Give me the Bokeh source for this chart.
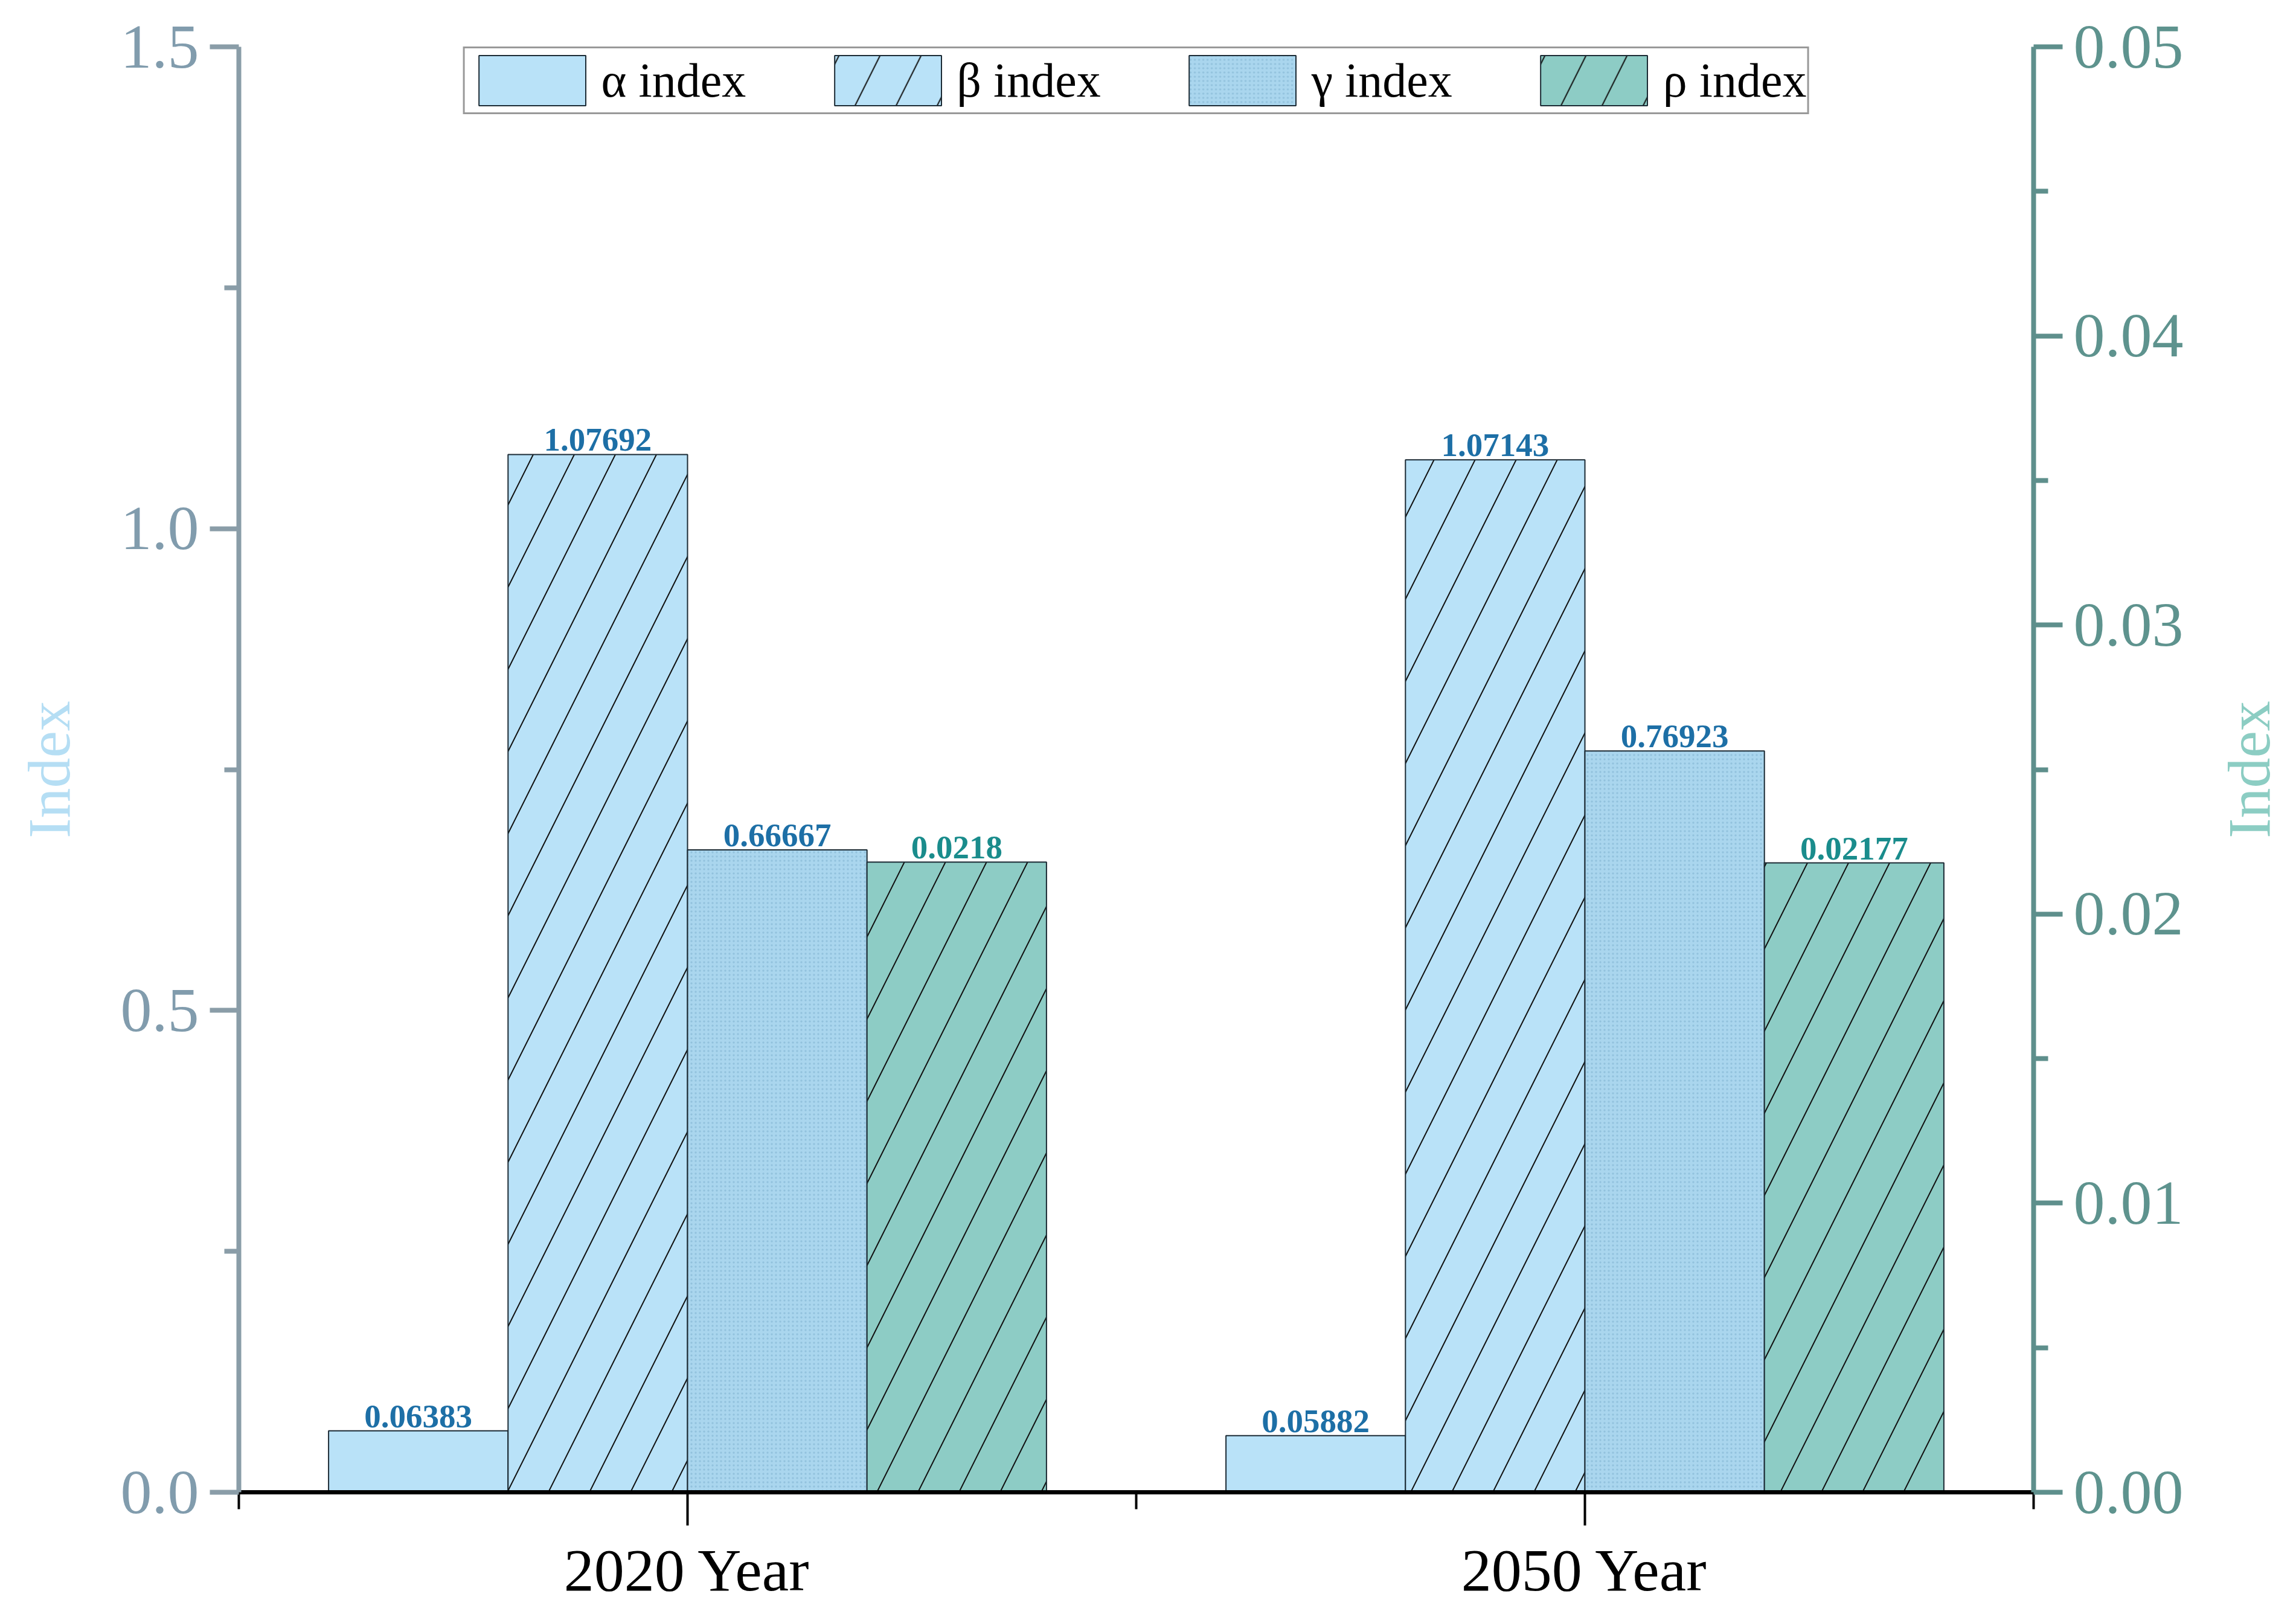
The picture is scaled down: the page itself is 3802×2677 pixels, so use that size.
import math
from bokeh.plotting import figure
from bokeh.models import (Range1d, LinearAxis, FixedTicker, NumeralTickFormatter,
                          Legend, LegendItem, ColumnDataSource, LabelSet, Label)
from bokeh.transform import dodge
from bokeh.embed import file_html
from bokeh.resources import INLINE

# ---------------- data ----------------
years = ["2020 Year", "2050 Year"]
alpha_index = [0.06383, 0.05882]
beta_index = [1.07692, 1.07143]
gamma_index = [0.66667, 0.76923]
rho_index = [0.0218, 0.02177]          # plotted on the right axis
series_names = ["α index", "β index", "γ index", "ρ index"]
left_ticks = [0.0, 0.5, 1.0, 1.5]
right_ticks = [0.00, 0.01, 0.02, 0.03, 0.04, 0.05]

x_pos = [i + 1 for i in range(len(years))]

src = ColumnDataSource(dict(
    x=x_pos,
    alpha=alpha_index, beta=beta_index, gamma=gamma_index, rho=rho_index,
    alpha_lbl=[str(v) for v in alpha_index],
    beta_lbl=[str(v) for v in beta_index],
    gamma_lbl=[str(v) for v in gamma_index],
    rho_lbl=[str(v) for v in rho_index],
))

SERIF = "Liberation Serif"

p = figure(width=3786, height=2661, output_backend="svg", toolbar_location=None,
           x_range=Range1d(0.5, 2.5), y_range=Range1d(0, 1.5),
           min_border_left=395, min_border_right=419,
           min_border_top=77, min_border_bottom=191)
p.extra_y_ranges = {"right": Range1d(0, 0.05)}
p.xgrid.visible = False
p.ygrid.visible = False
p.outline_line_color = None
p.background_fill_color = "white"
p.border_fill_color = "white"

# ---------------- bars ----------------
outline = dict(line_color="#1C2B35", line_width=2)
BAR_W = 0.2
r_alpha = p.vbar(x=dodge("x", -0.3), top="alpha", width=BAR_W, source=src,
                 fill_color="#B9E2F8", **outline)
r_beta = p.vbar(x=dodge("x", -0.1), top="beta", width=BAR_W, source=src,
                fill_color="#B9E2F8", hatch_pattern="/", hatch_color="#111111",
                hatch_weight=2, hatch_scale=136, **outline)
r_gamma = p.vbar(x=dodge("x", 0.1), top="gamma", width=BAR_W, source=src,
                 fill_color="#AAD6EE", hatch_pattern=".", hatch_color="#92C2DD",
                 hatch_weight=1, hatch_scale=7, **outline)
r_rho = p.vbar(x=dodge("x", 0.3), top="rho", width=BAR_W, source=src,
               y_range_name="right",
               fill_color="#8DCCC5", hatch_pattern="/", hatch_color="#111111",
               hatch_weight=2, hatch_scale=136, **outline)

# ---------------- value labels ----------------
lbl_style = dict(text_font=SERIF, text_font_size="55px", text_font_style="bold",
                 text_align="center", text_baseline="bottom", y_offset=6)
for off, col, lbl, color, rng in [(-0.3, "alpha", "alpha_lbl", "#1D6FA6", "default"),
                                  (-0.1, "beta", "beta_lbl", "#1D6FA6", "default"),
                                  (0.1, "gamma", "gamma_lbl", "#1D6FA6", "default"),
                                  (0.3, "rho", "rho_lbl", "#1A8C8C", "right")]:
    ls = LabelSet(x=dodge("x", off), y=col, text=lbl, source=src,
                  text_color=color, y_range_name=rng, **lbl_style)
    p.add_layout(ls)

# ---------------- axes ----------------
# bottom
xa = p.xaxis[0]
xa.ticker = FixedTicker(ticks=x_pos, minor_ticks=[0.5, 1.5, 2.5])
xa.major_label_overrides = {x: y for x, y in zip(x_pos, years)}
xa.axis_line_color = "black"
xa.axis_line_width = 7
xa.major_tick_line_color = "black"
xa.major_tick_line_width = 4
xa.major_tick_in = 0
xa.major_tick_out = 55
xa.minor_tick_line_color = "black"
xa.minor_tick_line_width = 4
xa.minor_tick_in = 0
xa.minor_tick_out = 28
xa.major_label_text_font = SERIF
xa.major_label_text_font_size = "100px"
xa.major_label_text_color = "black"
xa.major_label_standoff = 18

# left
LEFT_C = "#8A9DA8"
ya = p.yaxis[0]
ya.ticker = FixedTicker(ticks=left_ticks, minor_ticks=[0.25, 0.75, 1.25])
ya.formatter = NumeralTickFormatter(format="0.0")
ya.axis_line_color = LEFT_C
ya.axis_line_width = 8
ya.major_tick_line_color = LEFT_C
ya.major_tick_line_width = 8
ya.major_tick_in = 0
ya.major_tick_out = 48
ya.minor_tick_line_color = LEFT_C
ya.minor_tick_line_width = 8
ya.minor_tick_in = 0
ya.minor_tick_out = 24
ya.major_label_text_font = SERIF
ya.major_label_text_font_size = "104px"
ya.major_label_text_color = "#819CAD"
ya.major_label_standoff = 18
ya.axis_label = "Index"
ya.axis_label_text_font = SERIF
ya.axis_label_text_font_style = "normal"
ya.axis_label_text_font_size = "100px"
ya.axis_label_text_color = "#B5DEF4"
ya.axis_label_standoff = 60

# right
RIGHT_C = "#5E8F8C"
ra = LinearAxis(y_range_name="right")
ra.ticker = FixedTicker(ticks=right_ticks,
                        minor_ticks=[0.005, 0.015, 0.025, 0.035, 0.045])
ra.formatter = NumeralTickFormatter(format="0.00")
ra.axis_line_color = RIGHT_C
ra.axis_line_width = 8
ra.major_tick_line_color = RIGHT_C
ra.major_tick_line_width = 8
ra.major_tick_in = 0
ra.major_tick_out = 48
ra.minor_tick_line_color = RIGHT_C
ra.minor_tick_line_width = 8
ra.minor_tick_in = 0
ra.minor_tick_out = 24
ra.major_label_text_font = SERIF
ra.major_label_text_font_size = "104px"
ra.major_label_text_color = "#5E938E"
ra.major_label_standoff = 18
p.add_layout(ra, "right")

# right axis title, reading bottom-to-top like the left one (placed in the right panel)
right_title = Label(x=p.x_range.end, y=(right_ticks[0] + right_ticks[-1]) / 2,
                    y_range_name="right", x_offset=357,
                    text="Index", angle=math.pi / 2, angle_units="rad",
                    text_align="center", text_baseline="middle",
                    text_font=SERIF, text_font_size="100px", text_color="#8CCDC3")
p.add_layout(right_title, "right")

# ---------------- legend ----------------
renderers = [r_alpha, r_beta, r_gamma, r_rho]
legend = Legend(items=[LegendItem(label=n, renderers=[r]) for n, r in zip(series_names, renderers)],
                orientation="horizontal", location="top_center",
                glyph_width=221, glyph_height=104, label_standoff=4, spacing=124,
                padding=1, margin=0,
                border_line_color="#333333", border_line_width=3,
                background_fill_color="white", background_fill_alpha=1,
                label_text_font=SERIF, label_text_font_size="80px",
                label_text_color="black")
p.add_layout(legend)

open("out.html", "w").write(file_html(p, INLINE))
